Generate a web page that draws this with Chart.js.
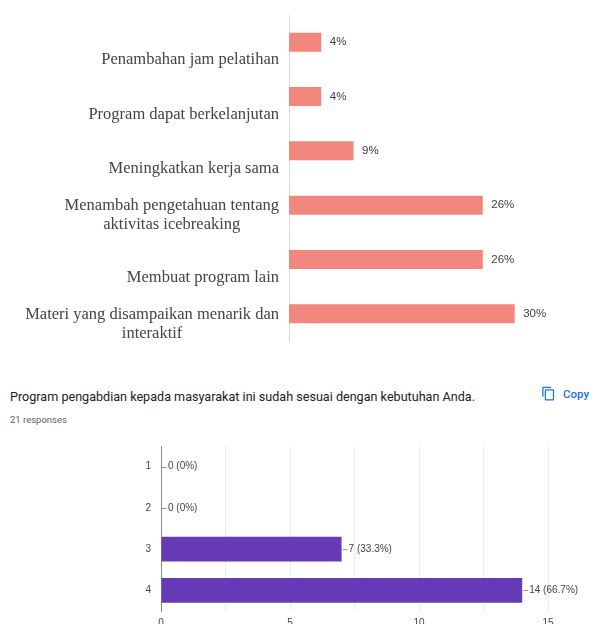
<!DOCTYPE html>
<html>
<head>
<meta charset="utf-8">
<script src="https://cdn.jsdelivr.net/npm/chart.js@4/dist/chart.umd.min.js"></script>
<style>
  html, body { margin:0; padding:0; background:#fff; width:595px; height:624px; overflow:hidden; }
  #c1wrap { position:absolute; left:0; top:0; width:595px; height:350px; }
  #c2wrap { position:absolute; left:0; top:430px; width:595px; height:200px; }
  #title { position:absolute; left:10px; top:389px; font:12.6px Roboto, sans-serif; color:#202124; white-space:nowrap; line-height:16px; }
  #resp { position:absolute; left:10px; top:414px; font:9.5px Roboto, sans-serif; color:#5f6368; line-height:12px; }
  #copy { position:absolute; left:541px; top:386px; display:flex; align-items:center; gap:7px; font:500 11.5px Roboto, sans-serif; color:#1a73e8; }
  #copy svg { width:15px; height:15px; }
</style>
</head>
<body>
<div id="c1wrap"><canvas id="c1" width="595" height="350"></canvas></div>
<div id="title">Program pengabdian kepada masyarakat ini sudah sesuai dengan kebutuhan Anda.</div>
<div id="resp">21 responses</div>
<div id="copy"><svg viewBox="0 0 24 24"><path fill="#1a73e8" d="M16 1H4c-1.1 0-2 .9-2 2v14h2V3h12V1zm3 4H8c-1.1 0-2 .9-2 2v14c0 1.1.9 2 2 2h11c1.1 0 2-.9 2-2V7c0-1.1-.9-2-2-2zm0 16H8V7h11v14z"/></svg><span>Copy</span></div>
<div id="c2wrap"><canvas id="c2" width="595" height="200"></canvas></div>
<script>
// ---- Top chart data ----
const topCategories = [
  ["Penambahan jam pelatihan"],
  ["Program dapat berkelanjutan"],
  ["Meningkatkan kerja sama"],
  ["Menambah pengetahuan tentang", "aktivitas icebreaking"],
  ["Membuat program lain"],
  ["Materi yang disampaikan menarik dan", "interaktif"]
];
const topValues = [4.35, 4.35, 8.7, 26.1, 26.1, 30.4];
const topLabels = ["4%", "4%", "9%", "26%", "26%", "30%"];

// ---- Bottom chart data ----
const bottomCategories = ["1", "2", "3", "4"];
const bottomValues = [0, 0, 7, 14];
const bottomLabels = ["0 (0%)", "0 (0%)", "7 (33.3%)", "14 (66.7%)"];
const bottomTicks = [0, 5, 10, 15];

const topValuePlugin = {
  id: 'topValues',
  afterDatasetsDraw(chart) {
    const ctx = chart.ctx;
    const meta = chart.getDatasetMeta(0);
    ctx.save();
    ctx.font = '11.5px "Liberation Sans", Arial, sans-serif';
    ctx.fillStyle = '#404040';
    ctx.textBaseline = 'middle';
    ctx.textAlign = 'left';
    meta.data.forEach((bar, i) => {
      ctx.fillText(topLabels[i], bar.x + 8.5, bar.y);
    });
    ctx.restore();
  }
};

// category labels: block right-aligned against the axis, lines centred within the block
const topCategoryLabelPlugin = {
  id: 'topCatLabels',
  afterDraw(chart) {
    const ctx = chart.ctx;
    const yScale = chart.scales.y;
    const right = yScale.right - 10;
    const lh = 19;
    ctx.save();
    ctx.font = '16.5px "Liberation Serif", "Times New Roman", serif';
    ctx.fillStyle = '#444';
    ctx.textBaseline = 'middle';
    ctx.textAlign = 'center';
    topCategories.forEach((lines, i) => {
      const y = yScale.getPixelForTick(i);
      const w = Math.max(...lines.map(l => ctx.measureText(l).width));
      const cx = right - w / 2;
      const y0 = lines.length === 1 ? y + 18 : y + 0.5;
      lines.forEach((l, k) => ctx.fillText(l, cx, y0 + k * lh));
    });
    ctx.restore();
  }
};

new Chart(document.getElementById('c1'), {
  type: 'bar',
  data: {
    labels: topCategories.map(l => l.join(' ')),
    datasets: [{
      data: topValues,
      backgroundColor: '#f2877d',
      borderWidth: 0,
      barPercentage: 0.35,
      categoryPercentage: 1
    }]
  },
  options: {
    indexAxis: 'y',
    responsive: false,
    animation: false,
    layout: { autoPadding: false, padding: { left: 0, right: 9, top: 15, bottom: 9 } },
    plugins: { legend: { display: false }, tooltip: { enabled: false } },
    scales: {
      x: { display: false, min: 0, max: 40 },
      y: {
        afterFit: s => { s.width = 289; s.paddingTop = 0; s.paddingBottom = 0; },
        grid: { display: false, drawTicks: false },
        border: { display: true, color: '#d9d9d9', width: 1 },
        ticks: { display: false }
      }
    }
  },
  plugins: [topValuePlugin, topCategoryLabelPlugin]
});

const bottomValuePlugin = {
  id: 'bottomValues',
  afterDatasetsDraw(chart) {
    const ctx = chart.ctx;
    const meta = chart.getDatasetMeta(0);
    ctx.save();
    ctx.font = '10px "Liberation Sans", Arial, sans-serif';
    ctx.textBaseline = 'middle';
    ctx.textAlign = 'left';
    meta.data.forEach((bar, i) => {
      ctx.strokeStyle = '#9e9e9e';
      ctx.lineWidth = 1;
      ctx.beginPath();
      ctx.moveTo(bar.x + 1, Math.round(bar.y) + 0.5);
      ctx.lineTo(bar.x + 6, Math.round(bar.y) + 0.5);
      ctx.stroke();
      ctx.fillStyle = '#444';
      ctx.fillText(bottomLabels[i], bar.x + 7, bar.y);
    });
    ctx.restore();
  }
};

new Chart(document.getElementById('c2'), {
  type: 'bar',
  data: {
    labels: bottomCategories,
    datasets: [{
      data: bottomValues,
      backgroundColor: '#673ab7',
      borderWidth: 0,
      barPercentage: 0.606,
      categoryPercentage: 1
    }]
  },
  options: {
    indexAxis: 'y',
    responsive: false,
    animation: false,
    layout: { autoPadding: false, padding: { left: 0, right: 47, top: 16, bottom: 0 } },
    plugins: { legend: { display: false }, tooltip: { enabled: false } },
    scales: {
      x: {
        min: 0, max: 15,
        afterFit: s => { s.height = 19; },
        grid: { color: '#ebebeb', drawTicks: false },
        border: { display: false },
        ticks: {
          stepSize: 2.5,
          padding: 6,
          color: '#444',
          font: { family: '"Liberation Sans", Arial, sans-serif', size: 10 },
          callback: v => bottomTicks.includes(v) ? String(v) : ''
        }
      },
      y: {
        afterFit: s => { s.width = 161; },
        grid: { display: false, drawTicks: false },
        border: { display: true, color: '#8a8a8a', width: 1 },
        ticks: {
          padding: 10,
          color: '#444',
          font: { family: '"Liberation Sans", Arial, sans-serif', size: 10 }
        }
      }
    }
  },
  plugins: [bottomValuePlugin]
});
</script>
</body>
</html>
